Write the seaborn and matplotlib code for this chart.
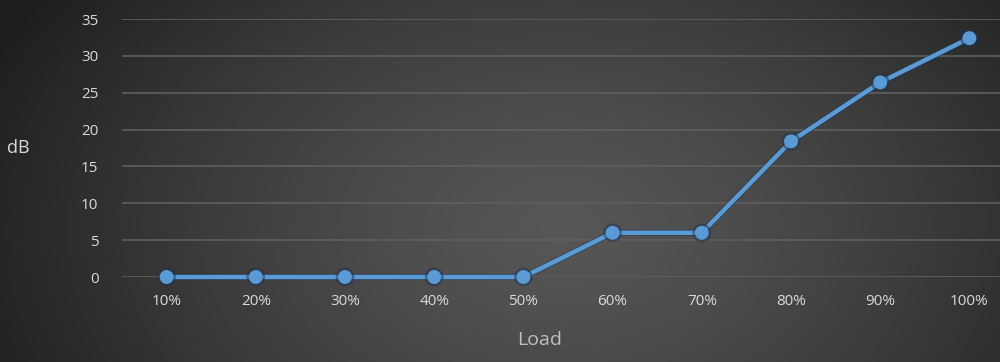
import numpy as np
import pandas as pd
import matplotlib
matplotlib.use("Agg")
import matplotlib.pyplot as plt
import seaborn as sns
import matplotlib.patheffects as pe

categories = ["10%", "20%", "30%", "40%", "50%", "60%", "70%", "80%", "90%", "100%"]
db_values = [0, 0, 0, 0, 0, 6, 6, 18.4, 26.4, 32.4]
y_ticks = [0, 5, 10, 15, 20, 25, 30, 35]

df = pd.DataFrame({"Load": categories, "dB": db_values})

sns.set_theme(style="dark")
plt.rcParams["font.family"] = ["Open Sans", "DejaVu Sans"]

fig = plt.figure(figsize=(10, 3.62), dpi=100)

# radial gradient background
bg = fig.add_axes([0, 0, 1, 1], zorder=-10)
W, H = 1000, 362
xx, yy = np.meshgrid(np.arange(W), np.arange(H))
cx, cy = 560, 230
r = np.sqrt(((xx - cx) / 620.0) ** 2 + ((yy - cy) / 420.0) ** 2)
t = np.clip(r, 0, 1)
c_in, c_out = 0.34, 0.12
val = c_in + (c_out - c_in) * t ** 1.3
img = np.dstack([val, val, val])
bg.imshow(img, aspect="auto", extent=[0, 1, 0, 1], origin="upper")
bg.axis("off")

ax = fig.add_axes([0.122, 0.2348, 0.892, 0.7127])
ax.set_facecolor("none")
sns.lineplot(data=df, x="Load", y="dB", ax=ax, color="#5b9bd5", linewidth=3.2,
             marker="o", markersize=9, markeredgecolor="#5b9bd5", markeredgewidth=1,
             sort=False, clip_on=False, zorder=5,
             path_effects=[pe.Stroke(linewidth=4.5, foreground="#1d3550", alpha=0.5), pe.Normal()])

ax.set_xlim(-0.5, len(categories) - 0.5)
ax.set_ylim(0, 35)
ax.set_yticks(y_ticks)
ax.set_yticklabels([str(v) for v in y_ticks])
ax.grid(axis="y", color="#5f5f5f", linewidth=1.2)
ax.grid(axis="x", visible=False)
for s in ax.spines.values():
    s.set_visible(False)
ax.tick_params(axis="y", colors="#d9d9d9", labelsize=11, pad=17, length=0)
ax.tick_params(axis="x", colors="#d9d9d9", labelsize=11, pad=12, length=0)
ax.set_xlabel("")
ax.set_ylabel("")

fig.text(0.540, 0.06, "Load", color="#bfbfbf", fontsize=14, ha="center", va="center")
fig.text(0.018, 0.59, "dB", color="#d9d9d9", fontsize=13, ha="center", va="center")

fig.savefig("out.png", dpi=100)
